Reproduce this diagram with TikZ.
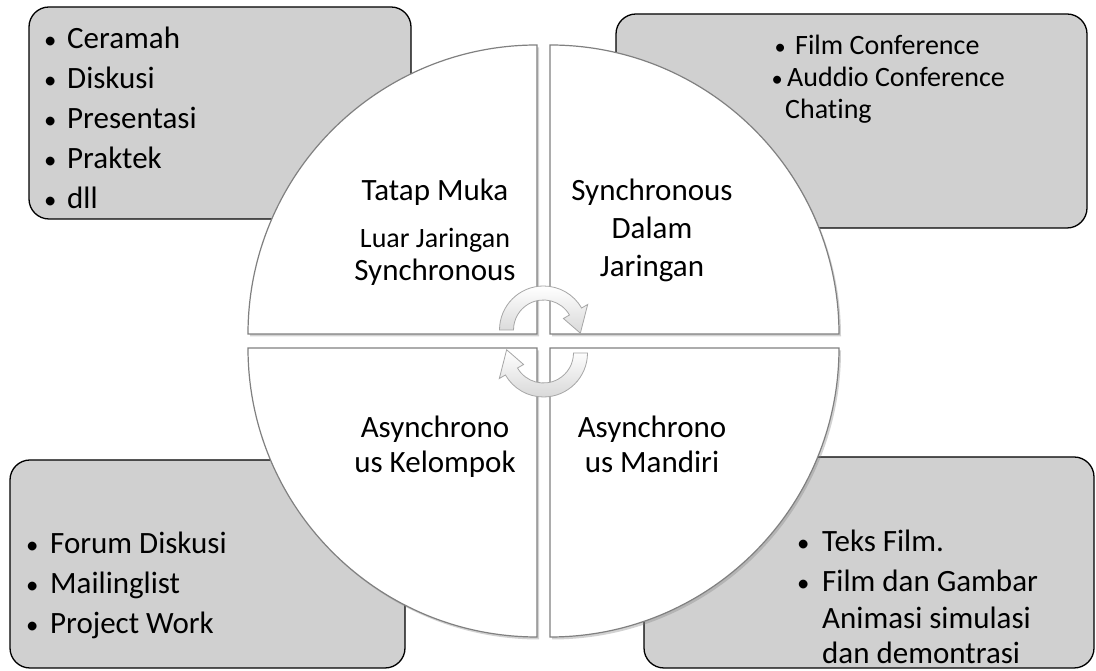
\documentclass[tikz,border=0pt]{standalone}
\usepackage{fontspec}
\setmainfont{Carlito}[RawFeature={-liga}]
\usetikzlibrary{shadows}
\definecolor{boxgray}{RGB}{208,208,208}
\definecolor{edgegray}{RGB}{128,128,128}
\newcommand{\bitem}[2][9pt]{\makebox[16pt][c]{\scalebox{0.8}{\textbullet}}\hspace{#1}#2}

\begin{document}
\begin{tikzpicture}[x=1pt,y=1pt,
  listbox/.style={draw=black, line width=1.3pt, fill=boxgray, rounded corners=20pt},
  quad/.style={draw=edgegray, line width=1.2pt, fill=white,
    drop shadow={opacity=0.35, shadow xshift=2pt, shadow yshift=-2.5pt}},
  cyclearrow/.style={draw=gray!70, line width=0.8pt, top color=white, bottom color=gray!30},
  quadtext/.style={anchor=base, inner sep=0pt, font=\fontsize{31}{36}\selectfont},
  listtext/.style={anchor=base west, inner sep=0pt, font=\fontsize{31}{40}\selectfont}]
\def\quadR{289}

\useasboundingbox (0,0) rectangle (1096,671);
\fill[white] (0,0) rectangle (1096,671);

% corner boxes
\draw[listbox] (29,452) rectangle (411,664);
\draw[listbox] (616,443) rectangle (1087,657);
\draw[listbox] (10,3) rectangle (405,211);
\draw[listbox] (644,3) rectangle (1094,214);

% --- circle in four quarters ---
\draw[quad] (537,337) -- (248,337) arc[start angle=180, end angle=90, radius=\quadR] -- cycle;
\draw[quad] (550,337) -- (550,626) arc[start angle=90, end angle=0, radius=\quadR] -- cycle;
\draw[quad] (537,323) -- (537,34) arc[start angle=270, end angle=180, radius=\quadR] -- cycle;
\draw[quad] (550,323) -- (839,323) arc[start angle=0, end angle=-90, radius=\quadR] -- cycle;

% --- cycle arrows ---
\begin{scope}[shift={(543.5,341)}]
  \draw[cyclearrow] (180:44) arc[start angle=180, end angle=30, radius=44]
      -- (30:51) -- (-5:37) -- (30:23) -- (30:30)
      arc[start angle=30, end angle=180, radius=30] -- cycle;
\end{scope}
\begin{scope}[shift={(543.5,318)}]
  \draw[cyclearrow] (0:44) arc[start angle=0, end angle=-150, radius=44]
      -- (-150:51) -- (175:37) -- (-150:23) -- (-150:30)
      arc[start angle=-150, end angle=0, radius=30] -- cycle;
\end{scope}

% --- quarter labels ---
\node[quadtext] (facetoface) at (435,470)
    {\begin{tabular}[t]{@{}c@{}}Tatap Muka\\[11pt]{\fontsize{28}{31}\selectfont Luar Jaringan}\\[-3pt]Synchronous\end{tabular}};
\node[quadtext, font=\fontsize{31}{38}\selectfont] (synconline) at (652,470)
    {\begin{tabular}[t]{@{}c@{}}Synchronous\\Dalam\\Jaringan\end{tabular}};
\node[quadtext, font=\fontsize{31}{35}\selectfont] (asyncgroup) at (435,233)
    {\begin{tabular}[t]{@{}c@{}}Asynchrono\\us Kelompok\end{tabular}};
\node[quadtext, font=\fontsize{31}{35}\selectfont] (asyncself) at (652,233)
    {\begin{tabular}[t]{@{}c@{}}Asynchrono\\us Mandiri\end{tabular}};

% --- box lists ---
\node[listtext] (facelist) at (42,622)
    {\begin{tabular}[t]{@{}l@{}}\bitem{Ceramah}\\\bitem{Diskusi}\\\bitem{Presentasi}\\\bitem{Praktek}\\\bitem{dll}\end{tabular}};
\node[listtext, font=\fontsize{28}{32}\selectfont] (onlinelist) at (772,616)
    {\begin{tabular}[t]{@{}l@{}}\bitem[7pt]{Film Conference}\\\hspace{-3pt}\bitem[2pt]{Auddio Conference}\\\hspace{13pt}Chating\end{tabular}};
\node[listtext] (grouplist) at (24,117)
    {\begin{tabular}[t]{@{}l@{}}\bitem[10pt]{Forum Diskusi}\\\bitem[10pt]{Mailinglist}\\\bitem[10pt]{Project Work}\end{tabular}};
\node[listtext] (selflist) at (795,119)
    {\begin{tabular}[t]{@{}l@{}}\bitem[11pt]{Teks Film.}\\\bitem[11pt]{Film dan Gambar}\\[-3pt]\hspace{27pt}Animasi simulasi\\[-5pt]\hspace{27pt}dan demontrasi\end{tabular}};
\end{tikzpicture}
\end{document}
